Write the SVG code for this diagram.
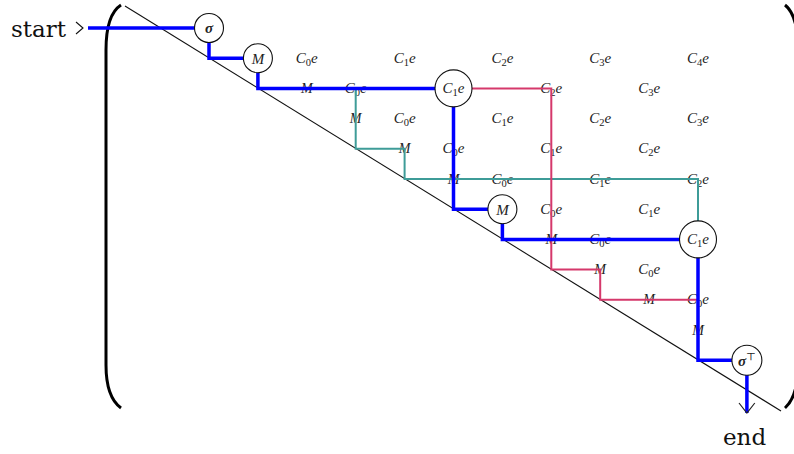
<svg xmlns="http://www.w3.org/2000/svg" width="794" height="454" viewBox="0 0 794 454">
<style>
.lbl{font-family:"Liberation Serif","DejaVu Serif",serif;font-style:italic;font-size:15px;fill:#222;text-anchor:middle}
.m{font-family:"Liberation Serif","DejaVu Serif",serif;font-style:italic;font-size:14px;fill:#222;text-anchor:middle}
.sub{font-size:10.5px;font-style:normal}
.big{font-family:"DejaVu Serif","Liberation Serif",serif;font-size:23px;fill:#111}
.node{fill:#fff;stroke:#111;stroke-width:1.1}
.blue{fill:none;stroke:#0000ff;stroke-width:3.5;stroke-linejoin:miter}
.teal{fill:none;stroke:#3e9c98;stroke-width:2}
.pink{fill:none;stroke:#d5386b;stroke-width:2}
.thin{fill:none;stroke:#111;stroke-width:1.1}
.paren{fill:none;stroke:#000;stroke-width:3}
</style>
<g id="frame">
<path class="paren" d="M121,5 C110,12 106,28 106,50 V365 C106,385 110,400 121,408"/>
<path class="paren" d="M785,5 C794,12 798,28 798,50 V365 C798,385 794,400 785,408"/>
<line class="thin" x1="125" y1="6" x2="781" y2="411"/>
<text class="big" x="11" y="37">start</text>
<text class="big" x="723" y="445">end</text>
</g>
<g id="labels">
<text class="lbl" x="306.8" y="62.7">C<tspan class="sub" dy="3">0</tspan><tspan dy="-3">e</tspan></text>
<text class="lbl" x="404.6" y="62.7">C<tspan class="sub" dy="3">1</tspan><tspan dy="-3">e</tspan></text>
<text class="lbl" x="502.4" y="62.7">C<tspan class="sub" dy="3">2</tspan><tspan dy="-3">e</tspan></text>
<text class="lbl" x="600.2" y="62.7">C<tspan class="sub" dy="3">3</tspan><tspan dy="-3">e</tspan></text>
<text class="lbl" x="698" y="62.7">C<tspan class="sub" dy="3">4</tspan><tspan dy="-3">e</tspan></text>

<text class="m" x="306.8" y="93">M</text>
<text class="lbl" x="355.7" y="92.9">C<tspan class="sub" dy="3">0</tspan><tspan dy="-3">e</tspan></text>
<text class="lbl" x="551.3" y="92.9">C<tspan class="sub" dy="3">2</tspan><tspan dy="-3">e</tspan></text>
<text class="lbl" x="649.1" y="92.9">C<tspan class="sub" dy="3">3</tspan><tspan dy="-3">e</tspan></text>

<text class="m" x="355.7" y="123.2">M</text>
<text class="lbl" x="404.6" y="123.1">C<tspan class="sub" dy="3">0</tspan><tspan dy="-3">e</tspan></text>
<text class="lbl" x="502.4" y="123.1">C<tspan class="sub" dy="3">1</tspan><tspan dy="-3">e</tspan></text>
<text class="lbl" x="600.2" y="123.1">C<tspan class="sub" dy="3">2</tspan><tspan dy="-3">e</tspan></text>
<text class="lbl" x="698" y="123.1">C<tspan class="sub" dy="3">3</tspan><tspan dy="-3">e</tspan></text>

<text class="m" x="404.6" y="153.4">M</text>
<text class="lbl" x="453.5" y="153.3">C<tspan class="sub" dy="3">0</tspan><tspan dy="-3">e</tspan></text>
<text class="lbl" x="551.3" y="153.3">C<tspan class="sub" dy="3">1</tspan><tspan dy="-3">e</tspan></text>
<text class="lbl" x="649.1" y="153.3">C<tspan class="sub" dy="3">2</tspan><tspan dy="-3">e</tspan></text>

<text class="m" x="453.5" y="183.6">M</text>
<text class="lbl" x="502.4" y="183.5">C<tspan class="sub" dy="3">0</tspan><tspan dy="-3">e</tspan></text>
<text class="lbl" x="600.2" y="183.5">C<tspan class="sub" dy="3">1</tspan><tspan dy="-3">e</tspan></text>
<text class="lbl" x="698" y="183.5">C<tspan class="sub" dy="3">2</tspan><tspan dy="-3">e</tspan></text>

<text class="lbl" x="551.3" y="213.7">C<tspan class="sub" dy="3">0</tspan><tspan dy="-3">e</tspan></text>
<text class="lbl" x="649.1" y="213.7">C<tspan class="sub" dy="3">1</tspan><tspan dy="-3">e</tspan></text>

<text class="m" x="551.3" y="244">M</text>
<text class="lbl" x="600.2" y="243.9">C<tspan class="sub" dy="3">0</tspan><tspan dy="-3">e</tspan></text>

<text class="m" x="600.2" y="274.2">M</text>
<text class="lbl" x="649.1" y="274.1">C<tspan class="sub" dy="3">0</tspan><tspan dy="-3">e</tspan></text>

<text class="m" x="649.1" y="304.4">M</text>
<text class="lbl" x="698" y="304.3">C<tspan class="sub" dy="3">0</tspan><tspan dy="-3">e</tspan></text>

<text class="m" x="698" y="334.6">M</text>
</g>
<g id="connectors">
<polyline class="thin" points="76,22 83,28 76,34"/>
<path class="teal" d="M355.7,88.4 V148.8 H404.6 V179 H698 V239.4"/>
<path class="pink" d="M453.5,88.4 H551.3 V269.6 H600.2 V299.8 H698"/>
<path class="blue" d="M88,28 H209 V58.2 H257.9 V88.4 H453.5 V209.2 H502.4 V239.4 H698 V360.2 H746.9 V413"/>
<polyline fill="none" stroke="#222" stroke-width="1.2" points="739,403 746.9,413 754.8,403"/>
</g>
<g id="n-sigma">
<circle class="node" cx="209" cy="28" r="14.5"/>
<text class="lbl" x="209" y="33" font-weight="bold">σ</text>
</g>
<g id="n-M1">
<circle class="node" cx="257.9" cy="58.2" r="14.5"/>
<text class="lbl" x="257.9" y="63.5">M</text>
</g>
<g id="n-C1e-a">
<circle class="node" cx="453.5" cy="88.4" r="18.5"/>
<text class="lbl" x="453.5" y="93">C<tspan class="sub" dy="3">1</tspan><tspan dy="-3">e</tspan></text>
</g>
<g id="n-M2">
<circle class="node" cx="502.4" cy="209.2" r="14.5"/>
<text class="lbl" x="502.4" y="214.5">M</text>
</g>
<g id="n-C1e-b">
<circle class="node" cx="698" cy="239.4" r="18.5"/>
<text class="lbl" x="698" y="244">C<tspan class="sub" dy="3">1</tspan><tspan dy="-3">e</tspan></text>
</g>
<g id="n-sigmaT">
<circle class="node" cx="746.9" cy="360.2" r="15"/>
<text class="lbl" x="746.9" y="365.5" font-weight="bold">σ<tspan class="sub" font-weight="normal" dy="-6">⊤</tspan></text>
</g>
</svg>
